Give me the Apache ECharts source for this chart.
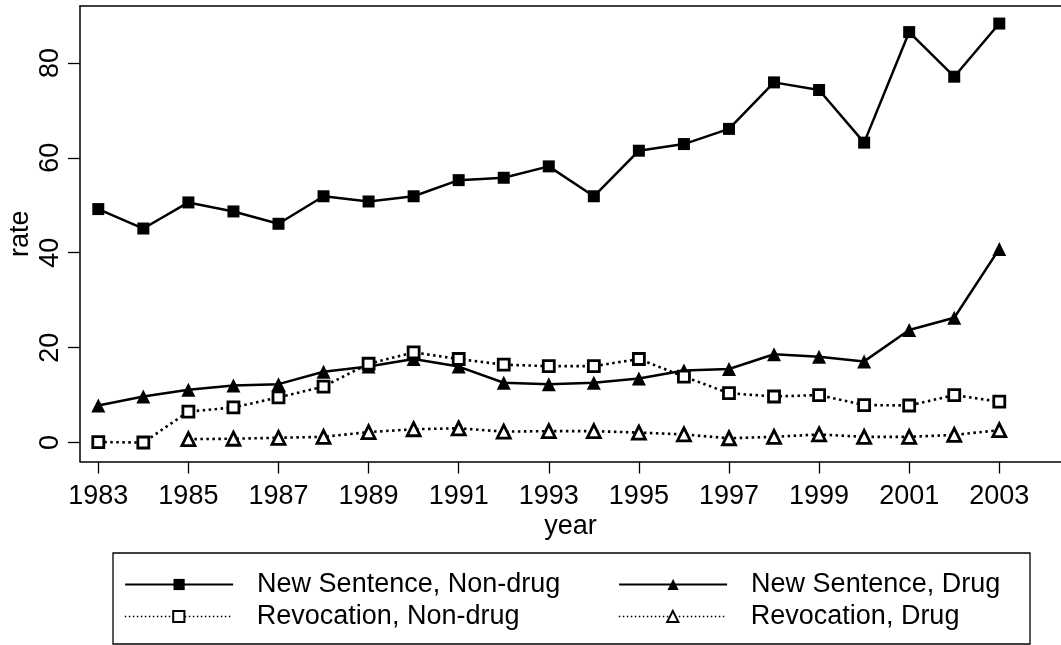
<!DOCTYPE html>
<html>
<head>
<meta charset="utf-8">
<script src="https://cdn.jsdelivr.net/npm/echarts@6/dist/echarts.min.js"></script>
<style>
html,body{margin:0;padding:0;background:#fff;}
#chart{width:1061px;height:645px;}
</style>
</head>
<body>
<div id="chart"></div>
<script>
// years on the x axis
var years = [1983,1984,1985,1986,1987,1988,1989,1990,1991,1992,1993,
	1994,1995,1996,1997,1998,1999,2000,2001,2002,2003];
var yearTicks = [1983,1985,1987,1989,1991,1993,1995,1997,1999,2001,2003];
var rateTicks = [0,20,40,60,80];

// rates
var newNonDrug = [49.2,45.1,50.6,48.7,46.1,51.9,50.8,51.9,55.3,55.8,58.2,
	51.9,61.5,62.9,66.1,75.9,74.3,63.2,86.5,77.1,88.3];
var newDrug = [7.8,9.7,11.1,12.0,12.3,14.9,16.0,17.6,16.0,12.6,12.3,
	12.6,13.5,15.2,15.5,18.6,18.1,17.1,23.7,26.3,40.8];
var revNonDrug = [0.1,0.0,6.5,7.4,9.5,11.8,16.6,19.0,17.6,16.4,16.1,
	16.1,17.6,13.9,10.4,9.7,10.0,7.9,7.8,10.0,8.6];
var revDrug = [null,null,0.7,0.8,1.0,1.2,2.2,2.8,3.0,2.3,2.4,
	2.4,2.1,1.7,0.9,1.2,1.7,1.2,1.2,1.6,2.6];

var seriesNames = ['New Sentence, Non-drug','New Sentence, Drug','Revocation, Non-drug','Revocation, Drug'];

function pairs(vals){
	var out = [];
	for(var i=0;i<years.length;i++){
		if(vals[i]!=null) out.push([years[i], vals[i]]);
	}
	return out;
}

var font = "'Liberation Sans', Arial, sans-serif";
var xMin = 1982.594, xMax = 2004.37;

var myChart = echarts.init(document.getElementById('chart'));

//一个图例一个组件，方便按列对齐
function legendAt(name, left, top, dotted){
	return {
		data:[name],
		left:left, top:top,
		padding:0,
		itemWidth:108, itemHeight:14,
		lineStyle: dotted ? {width:1.6, type:[1.5,2.5]} : {width:2.2},
		textStyle:{fontSize:27, color:'#000', fontFamily:font, padding:[0,0,0,19]}
	};
}

var dotLine = {color:'#000', width:2.6, type:[2.5,3.5]};

var option = {
	animation:false,
	backgroundColor:'#fff',
	grid:{left:80, right:0, top:6, bottom:183.5, outerBoundsMode:'none', containLabel:false},
	legend:[
		legendAt(seriesNames[0], 124, 571, false),
		legendAt(seriesNames[1], 618, 571, false),
		legendAt(seriesNames[2], 124, 603, true),
		legendAt(seriesNames[3], 618, 603, true)
	],
	graphic:[{
		type:'rect',
		shape:{x:113, y:553, width:917, height:91},
		style:{fill:'none', stroke:'#000', lineWidth:1.3}
	}],
	xAxis:[{
		type:'value', min:xMin, max:xMax,
		name:'year', nameLocation:'middle', nameGap:52, nameMoveOverlap:false,
		nameTextStyle:{fontSize:27, color:'#000', fontFamily:font},
		axisLine:{show:true, onZero:false, lineStyle:{color:'#000', width:1.5}},
		axisTick:{show:true, length:12, customValues:yearTicks, lineStyle:{color:'#000', width:1.3}},
		axisLabel:{customValues:yearTicks, fontSize:27, color:'#000', fontFamily:font, margin:22,
			formatter:function(v){ return String(v); }},
		splitLine:{show:false}
	},{
		type:'value', position:'top', min:xMin, max:xMax,
		axisLine:{show:true, onZero:false, lineStyle:{color:'#000', width:1.5}},
		axisTick:{show:false}, axisLabel:{show:false}, splitLine:{show:false}
	}],
	yAxis:{
		type:'value', min:-4.0, max:92.0,
		name:'rate', nameLocation:'middle', nameGap:46, nameMoveOverlap:false,
		nameTextStyle:{fontSize:27, color:'#000', fontFamily:font},
		axisLine:{show:true, onZero:false, lineStyle:{color:'#000', width:1.5}},
		axisTick:{show:true, length:12, customValues:rateTicks, lineStyle:{color:'#000', width:1.3}},
		axisLabel:{customValues:rateTicks, rotate:90, fontSize:27, color:'#000', fontFamily:font, margin:16},
		splitLine:{show:false}
	},
	series:[{
		name:seriesNames[0], type:'line', data:pairs(newNonDrug),
		symbol:'rect', symbolSize:12,
		lineStyle:{color:'#000', width:2.5},
		itemStyle:{color:'#000'}
	},{
		name:seriesNames[1], type:'line', data:pairs(newDrug),
		symbol:'triangle', symbolSize:14,
		lineStyle:{color:'#000', width:2.5},
		itemStyle:{color:'#000'}
	},{
		name:seriesNames[2], type:'line', data:pairs(revNonDrug),
		symbol:'rect', symbolSize:11,
		lineStyle:dotLine,
		itemStyle:{color:'#fff', borderColor:'#000', borderWidth:2.8}
	},{
		name:seriesNames[3], type:'line', data:pairs(revDrug),
		symbol:'triangle', symbolSize:13,
		lineStyle:dotLine,
		itemStyle:{color:'#fff', borderColor:'#000', borderWidth:2.8}
	}]
};
myChart.setOption(option);
</script>
</body>
</html>
